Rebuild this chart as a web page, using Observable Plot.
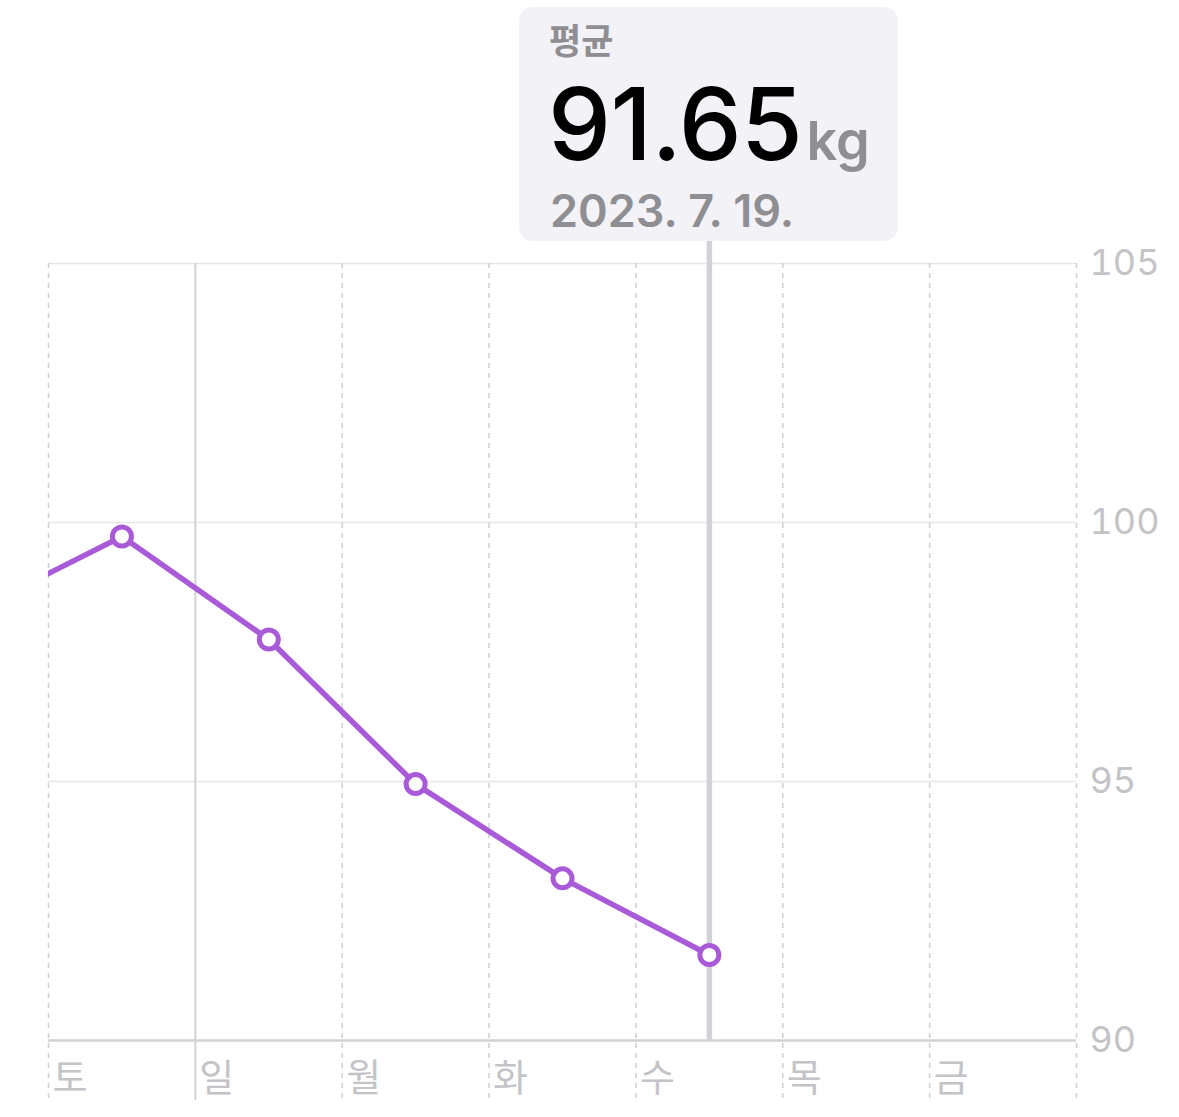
<!DOCTYPE html>
<html>
<head>
<meta charset="utf-8">
<script src="https://cdn.jsdelivr.net/npm/d3@7"></script>
<script src="https://cdn.jsdelivr.net/npm/@observablehq/plot@0.6"></script>
<style>
  body { margin: 0; background: #fff; font-family: Inter, "Noto Sans CJK KR", sans-serif; }
  #wrap { position: relative; width: 1179px; height: 1117px; overflow: hidden; }
  #callout {
    position: absolute; left: 519px; top: 7px; width: 379px; height: 234px;
    background: #f2f2f7; border-radius: 14px;
  }
  #callout .lbl { position: absolute; left: 30px; top: 6px; font-size: 35px; font-weight: 600; color: #8e8e93; font-family: "Noto Sans CJK KR", sans-serif; }
  #callout .val { position: absolute; left: 29px; top: 56px; font-size: 100px; font-weight: 500; color: #000; letter-spacing: -0.5px; white-space: nowrap; }
  #callout .val span { font-size: 54px; font-weight: 600; color: #8e8e93; letter-spacing: 0; margin-left: 4px; }
  #callout .date { position: absolute; left: 31px; top: 176px; font-size: 45px; font-weight: 600; color: #8e8e93; white-space: nowrap; }
</style>
</head>
<body>
<div id="wrap">
  <div id="chart"></div>
  <div id="callout">
    <div class="lbl">평균</div>
    <div class="val">91.65<span>kg</span></div>
    <div class="date">2023. 7. 19.</div>
  </div>
</div>
<script>
// weekday columns (midnight boundaries), week shown Sat..Fri
const dayLabels = ["토", "일", "월", "화", "수", "목", "금"];
const dayStarts = dayLabels.map((_, i) => new Date(Date.UTC(2023, 6, 15 + i)));
const gridDates = [...dayStarts, new Date(Date.UTC(2023, 6, 22))];

// daily average weight (kg), plotted at midday; first point sits off the left edge
const pointDates = ["2023-07-14", "2023-07-15", "2023-07-16", "2023-07-17", "2023-07-18", "2023-07-19"];
const weights = [98.3, 99.73, 97.74, 94.95, 93.13, 91.65];
const yTicks = [90, 95, 100, 105];
const selectedDate = "2023-07-19";

const series = pointDates.map((d, i) => ({ date: new Date(d + "T12:00:00Z"), kg: weights[i] }));
const visible = series.filter(d => d.date >= gridDates[0]);
const selected = new Date(selectedDate + "T12:00:00Z");

const purple = "#a95ad8";
const font = 'Inter, "Noto Sans CJK KR", sans-serif';

const plot = Plot.plot({
  width: 1179,
  height: 1117,
  marginLeft: 48,
  marginRight: 103,
  marginTop: 263,
  marginBottom: 77,
  style: { fontFamily: font, background: "transparent", overflow: "visible" },
  x: { type: "utc", domain: [gridDates[0], gridDates[gridDates.length - 1]], axis: null },
  y: { domain: [90, 105], axis: null },
  marks: [
    // horizontal grid
    Plot.ruleY(yTicks.filter(v => v !== 90), { stroke: "#e5e5ea", strokeWidth: 1.5 }),
    // vertical day grid, dashed except Sunday
    Plot.ruleX(gridDates.filter((d, i) => i !== 1), {
      stroke: "#cfcfd4", strokeWidth: 1.5, strokeDasharray: "5 5", insetBottom: -60
    }),
    Plot.ruleX([gridDates[1]], { stroke: "#d1d1d6", strokeWidth: 2, insetBottom: -60 }),
    Plot.ruleY([90], { stroke: "#d1d1d6", strokeWidth: 2.5 }),
    // selection rule under callout
    Plot.ruleX([selected], { stroke: "#d1d1d6", strokeWidth: 5.5, insetTop: -22 }),
    Plot.line(series, { x: "date", y: "kg", stroke: purple, strokeWidth: 5.5, clip: true }),
    Plot.dot(visible, { x: "date", y: "kg", r: 9.5, fill: "white", stroke: purple, strokeWidth: 5 }),
    Plot.axisY({
      anchor: "right", ticks: yTicks, tickSize: 0, tickPadding: 13, label: null,
      fontSize: 36, color: "#c4c4c8"
    }),
    Plot.text(dayLabels, {
      x: (d, i) => dayStarts[i], text: d => d,
      frameAnchor: "bottom", textAnchor: "start", lineAnchor: "middle",
      dx: 4, dy: 38, fontSize: 38, fill: "#c4c4c8",
      fontFamily: '"Noto Sans CJK KR", sans-serif'
    })
  ]
});
document.getElementById("chart").appendChild(plot);
</script>
</body>
</html>
